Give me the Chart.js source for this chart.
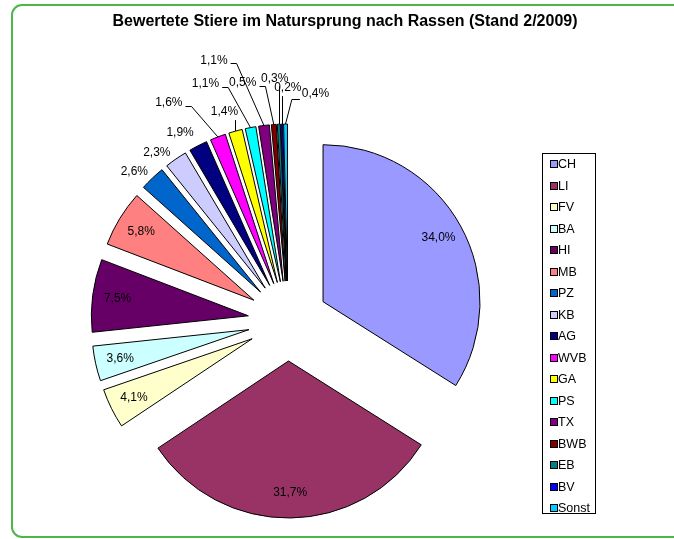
<!DOCTYPE html>
<html lang="de">
<head>
<meta charset="UTF-8">
<title>Bewertete Stiere im Natursprung nach Rassen</title>
<script src="https://cdn.jsdelivr.net/npm/chart.js"></script>
<style>
  html, body { margin: 0; padding: 0; background: #fff; }
  canvas { display: block; }
</style>
</head>
<body>
<canvas id="pieChart" width="674" height="539"></canvas>
<script>
// Rassen and their share (percent)
const breeds = ['CH', 'LI', 'FV', 'BA', 'HI', 'MB', 'PZ', 'KB', 'AG', 'WVB', 'GA', 'PS', 'TX', 'BWB', 'EB', 'BV', 'Sonst'];
const shares = [34.0, 31.7, 4.1, 3.6, 7.5, 5.8, 2.6, 2.3, 1.9, 1.6, 1.4, 1.1, 1.1, 0.5, 0.3, 0.2, 0.4];
const sliceColors = ['#9999FF', '#993366', '#FFFFCC', '#CCFFFF', '#660066', '#FF8080', '#0066CC', '#CCCCFF',
    '#000080', '#FF00FF', '#FFFF00', '#00FFFF', '#800080', '#800000', '#008080', '#0000FF', '#00CCFF'];

const titleText = 'Bewertete Stiere im Natursprung nach Rassen (Stand 2/2009)';

// label placement for the small slices: offset from the slice's outer edge, leader line or not
const callouts = {
    PZ: [-18, -6, false], KB: [-19, -6, false], AG: [-18, -13, false],
    WVB: [-49, -34, true], GA: [-11, -19, true], PS: [-45, -44, true],
    TX: [-50, -65, true], BWB: [-31, -42, true], EB: [-4, -46, true],
    BV: [6, -36, true], Sonst: [30, -30, true]
};

const EXPLODE = 40;
const FONT = '"Liberation Sans", Arial, sans-serif';

function pct(v) {
    return v.toFixed(1).replace('.', ',') + '%';
}

// move every slice out from the centre along its middle angle
const explodePlugin = {
    id: 'explode',
    afterDatasetUpdate(chart) {
        chart.getDatasetMeta(0).data.forEach(arc => {
            const mid = (arc.startAngle + arc.endAngle) / 2;
            arc.x += Math.cos(mid) * EXPLODE;
            arc.y += Math.sin(mid) * EXPLODE;
        });
    }
};

const framePlugin = {
    id: 'frame',
    beforeDraw(chart) {
        const ctx = chart.ctx;
        ctx.save();
        ctx.strokeStyle = '#4cb648';
        ctx.lineWidth = 2;
        ctx.beginPath();
        ctx.roundRect(12, 5, 700, 532, 10);
        ctx.stroke();

        ctx.fillStyle = '#000';
        ctx.font = 'bold 16px ' + FONT;
        ctx.textAlign = 'center';
        ctx.textBaseline = 'middle';
        ctx.fillText(titleText, 345, 22);
        ctx.restore();
    }
};

const labelPlugin = {
    id: 'sliceLabels',
    afterDatasetsDraw(chart) {
        const ctx = chart.ctx;
        const arcs = chart.getDatasetMeta(0).data;
        ctx.save();
        ctx.font = '12px ' + FONT;
        ctx.fillStyle = '#000';
        ctx.strokeStyle = '#000';
        ctx.lineWidth = 1;
        ctx.textAlign = 'center';
        ctx.textBaseline = 'middle';
        arcs.forEach((arc, i) => {
            const mid = (arc.startAngle + arc.endAngle) / 2;
            const dx = Math.cos(mid), dy = Math.sin(mid);
            const text = pct(shares[i]);
            const c = callouts[breeds[i]];
            if (!c) {
                const k = arc.outerRadius * 0.84;
                ctx.fillText(text, arc.x + dx * k, arc.y + dy * k);
                return;
            }
            const ex = arc.x + dx * arc.outerRadius;
            const ey = arc.y + dy * arc.outerRadius;
            const lx = ex + c[0], ly = ey + c[1];
            ctx.fillText(text, lx, ly);
            if (!c[2]) return;
            const w = ctx.measureText(text).width;
            ctx.beginPath();
            if (ex > lx - w / 2 && ex < lx + w / 2) {
                ctx.moveTo(Math.round(ex) + 0.5, ly + 8);
                ctx.lineTo(Math.round(ex) + 0.5, ey);
            } else if (ex >= lx + w / 2) {
                const sx = lx + w / 2 + 3;
                ctx.moveTo(sx, Math.round(ly + 3) + 0.5);
                ctx.lineTo(sx + 6, Math.round(ly + 3) + 0.5);
                ctx.lineTo(ex, ey);
            } else {
                const sx = lx - w / 2 - 2;
                ctx.moveTo(sx, Math.round(ly + 5) + 0.5);
                ctx.lineTo(sx - 8, Math.round(ly + 5) + 0.5);
                ctx.lineTo(ex, ey);
            }
            ctx.stroke();
        });

        // legend box
        const lx = 542, ly = 153, lw = 53, lh = 360, step = 21.5;
        ctx.strokeStyle = '#000';
        ctx.strokeRect(lx + 0.5, ly + 0.5, lw, lh);
        ctx.textAlign = 'left';
        ctx.font = '12.5px ' + FONT;
        breeds.forEach((b, i) => {
            const y = Math.round(ly + 11 + i * step);
            ctx.fillStyle = sliceColors[i];
            ctx.fillRect(551, y - 3, 6, 6);
            ctx.strokeRect(550.5, y - 3.5, 7, 7);
            ctx.fillStyle = '#000';
            ctx.fillText(b, 558, y + 1);
        });
        ctx.restore();
    }
};

const pieCtx = document.getElementById('pieChart').getContext('2d');
new Chart(pieCtx, {
    type: 'pie',
    data: {
        labels: breeds,
        datasets: [{
            data: shares,
            backgroundColor: sliceColors,
            borderColor: '#000',
            borderWidth: 1,
            borderJoinStyle: 'miter'
        }]
    },
    options: {
        responsive: false,
        animation: false,
        events: [],
        radius: 157,
        layout: { padding: { left: 0, right: 98, top: 103, bottom: 0 } },
        plugins: {
            legend: { display: false },
            title: { display: false },
            tooltip: { enabled: false }
        }
    },
    plugins: [explodePlugin, framePlugin, labelPlugin]
});
</script>
</body>
</html>
